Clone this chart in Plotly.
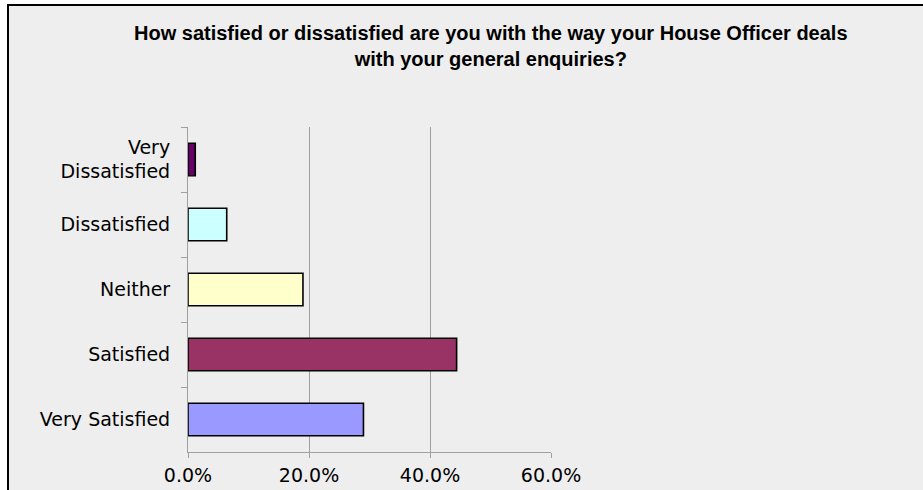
import plotly.graph_objects as go

categories = ["Very<br>Dissatisfied", "Dissatisfied", "Neither", "Satisfied", "Very Satisfied"]
values = [0.012, 0.064, 0.190, 0.444, 0.290]
colors = ["#660066", "#CCFFFF", "#FFFFCC", "#993366", "#9999FF"]
x_ticks = [0.0, 0.2, 0.4, 0.6]
x_tick_labels = ["0.0%", "20.0%", "40.0%", "60.0%"]
title_text = ("How satisfied or dissatisfied are you with the way your House Officer deals"
              "<br>with your general enquiries?")

W, H = 923, 490
L, R, T, B = 188, 372, 127, 38
pw = W - L - R
ph = H - T - B

fig = go.Figure()
fig.add_trace(go.Bar(
    x=values, y=categories, orientation="h",
    marker=dict(color=colors, line=dict(color="black", width=1.6)),
    width=0.5, hoverinfo="skip",
))

def px_x(p):
    return (p - L) / pw

def px_y(p):
    return (H - B - p) / ph

# chart-area frame (Excel style)
fig.add_shape(type="rect", xref="paper", yref="paper",
              x0=px_x(8), x1=px_x(940), y0=px_y(5), y1=px_y(505),
              line=dict(color="black", width=2), fillcolor="#EEEEEE", layer="below")

fig.add_annotation(text=title_text, xref="paper", yref="paper",
                   x=px_x(491), y=px_y(46), xanchor="center", yanchor="middle",
                   showarrow=False, align="center",
                   font=dict(family="Liberation Sans", size=20, color="black", weight="bold"))

fig.update_layout(
    width=W, height=H,
    margin=dict(l=L, r=R, t=T, b=B, pad=0),
    paper_bgcolor="white", plot_bgcolor="rgba(0,0,0,0)",
    showlegend=False,
    font=dict(family="DejaVu Sans", size=19, color="black"),
)
fig.update_xaxes(
    range=[0, 0.6], tickvals=x_ticks, ticktext=x_tick_labels,
    showgrid=True, gridcolor="#A0A0A0", gridwidth=1,
    showline=True, linecolor="#A0A0A0", linewidth=1,
    ticks="outside", ticklen=5, tickcolor="#A0A0A0",
    zeroline=False, fixedrange=True, automargin=False,
    tickfont=dict(family="DejaVu Sans", size=19, color="black"),
    ticklabelstandoff=1,
)
fig.update_yaxes(
    categoryorder="array", categoryarray=categories, autorange="reversed",
    showline=True, linecolor="#A0A0A0", linewidth=1,
    ticks="outside", ticklen=6, tickcolor="#A0A0A0", tickson="boundaries",
    showgrid=False, fixedrange=True, automargin=False,
    tickfont=dict(family="DejaVu Sans", size=19, color="black"),
    ticklabelstandoff=13,
)

fig.write_html("out.html", config={"displayModeBar": False},
               post_script="document.body.style.margin='0';document.body.style.overflow='hidden';")
